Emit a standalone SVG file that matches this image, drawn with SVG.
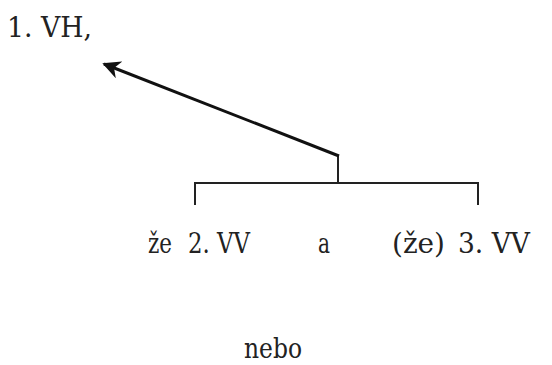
<svg xmlns="http://www.w3.org/2000/svg" width="552" height="365" viewBox="0 0 552 365">
<style>
text{font-family:"DejaVu Serif","Liberation Serif",serif;font-size:28px;fill:#222}
.ln{stroke:#222;stroke-width:2;fill:none}
</style>
<defs>
<marker id="ah" viewBox="0 0 10 10" refX="9" refY="5" markerWidth="6" markerHeight="6" orient="auto" markerUnits="strokeWidth">
<path d="M0,0 L10,5 L0,10 L3,5 z" fill="#111"/>
</marker>
</defs>
<rect width="552" height="365" fill="#fff"/>
<g id="vh"><text x="7" y="37" textLength="85" lengthAdjust="spacingAndGlyphs">1. VH,</text></g>
<g id="vv2"><text x="148" y="253" textLength="24" lengthAdjust="spacingAndGlyphs">že</text><text x="188" y="253" textLength="62" lengthAdjust="spacingAndGlyphs">2. VV</text></g>
<g id="a"><text x="318" y="253" textLength="12" lengthAdjust="spacingAndGlyphs">a</text></g>
<g id="vv3"><text x="392" y="253" textLength="53" lengthAdjust="spacingAndGlyphs">(že)</text><text x="458" y="253" textLength="72" lengthAdjust="spacingAndGlyphs">3. VV</text></g>
<g id="nebo"><text x="244" y="358" font-size="25" textLength="58" lengthAdjust="spacingAndGlyphs">nebo</text></g>
<g id="connectors">
<path class="ln" d="M195,205 V183 H478 V205 M338,183 V156"/>
<line x1="339" y1="156" x2="104" y2="64" stroke="#111" stroke-width="3" marker-end="url(#ah)"/>
</g>
</svg>
